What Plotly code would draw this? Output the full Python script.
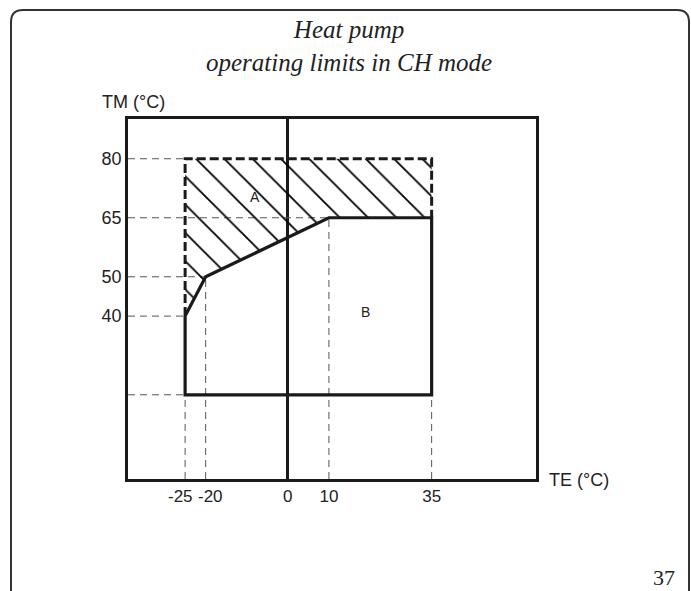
import plotly.graph_objects as go

# ---------------- data ----------------
te_ticks = [-25, -20, 0, 10, 35]
te_ticktext = ["-25", "-20", "0", "10", "35"]
tm_ticks = [40, 50, 65, 80]
tm_ticktext = ["40", "50", "65", "80"]

# Region B: operating limits (solid boundary)
b_te = [-25, -20, 10, 35, 35, -25, -25]
b_tm = [40, 50, 65, 65, 20, 20, 40]

# Region A: extended area (hatched)
a_te = [-25, 35, 35, 10, -20, -25, -25]
a_tm = [80, 80, 65, 65, 50, 40, 80]

# dashed outer border of region A
a_border_te = [-25, -25, 35, 35]
a_border_tm = [40, 80, 80, 65]

# horizontal guide lines (end points)
guide_h_te = [-25, 10, -20, -25, -25]
guide_h_tm = [80, 65, 50, 40, 20]
# vertical guide lines (end points)
guide_v_te = [-25, -20, 10, 35]
guide_v_tm = [20, 50, 65, 20]

X_MIN, X_MAX = -38.9, 60.4
Y_MIN, Y_MAX = -1.4, 90.1

# ---------------- layout helpers ----------------
W, H = 691, 591
PL, PR, PT, PB = 128, 536, 119, 479


def px(x):
    return (x - PL) / (PR - PL)


def py(y):
    return (PB - y) / (PB - PT)


fig = go.Figure()

# guide dashed lines
gx, gy = [], []
for t, m in zip(guide_h_te, guide_h_tm):
    gx += [X_MIN, t, None]
    gy += [m, m, None]
for t, m in zip(guide_v_te, guide_v_tm):
    gx += [t, t, None]
    gy += [Y_MIN, m, None]
fig.add_trace(go.Scatter(x=gx, y=gy, mode="lines",
                         line=dict(color="#555555", width=1, dash="7px,5px"),
                         hoverinfo="skip", showlegend=False))

# hatched region A
fig.add_trace(go.Scatter(x=a_te, y=a_tm, mode="lines", fill="toself",
                         fillcolor="rgba(0,0,0,0)",
                         fillpattern=dict(shape="\\", size=20, solidity=0.09,
                                          fgcolor="#000000", fgopacity=1,
                                          bgcolor="rgba(0,0,0,0)"),
                         line=dict(width=0), hoverinfo="skip", showlegend=False))

# dashed thick border of A
fig.add_trace(go.Scatter(x=a_border_te, y=a_border_tm, mode="lines",
                         line=dict(color="#1a1a1a", width=3, dash="9px,4px"),
                         hoverinfo="skip", showlegend=False))

# solid boundary of B
fig.add_trace(go.Scatter(x=b_te, y=b_tm, mode="lines",
                         line=dict(color="#1a1a1a", width=3.2),
                         hoverinfo="skip", showlegend=False))

# tick labels: the two crowded ones are drawn as annotations nudged apart
axis_ticktext = [("" if v in (-25, -20) else t) for v, t in zip(te_ticks, te_ticktext)]
fig.update_xaxes(range=[X_MIN, X_MAX], tickvals=te_ticks,
                 ticktext=axis_ticktext, tickangle=0,
                 showgrid=False, zeroline=True, zerolinecolor="#1a1a1a",
                 zerolinewidth=2.5, showline=True, mirror=True,
                 linecolor="#1a1a1a", linewidth=2.5, ticks="",
                 tickfont=dict(family="Liberation Sans", size=17, color="#222222"))
fig.update_yaxes(range=[Y_MIN, Y_MAX], tickvals=tm_ticks,
                 ticktext=tm_ticktext,
                 showgrid=False, zeroline=False, showline=True, mirror=True,
                 linecolor="#1a1a1a", linewidth=2.5, ticks="",
                 tickfont=dict(family="Liberation Sans", size=18, color="#222222"))

annotations = [
    dict(x=px(349), y=py(14), xref="paper", yref="paper",
         text="Heat pump<br>operating limits in CH mode", showarrow=False,
         font=dict(family="Liberation Serif", size=25, style="italic", color="#222222"),
         xanchor="center", yanchor="top", align="center"),
    dict(x=px(100), y=py(102), xref="paper", yref="paper", text="TM (°C)",
         showarrow=False, xanchor="left", yanchor="middle",
         font=dict(family="Liberation Sans", size=18, color="#222222")),
    dict(x=px(547), y=py(480), xref="paper", yref="paper", text="TE (°C)",
         showarrow=False, xanchor="left", yanchor="middle",
         font=dict(family="Liberation Sans", size=18, color="#222222")),
    dict(x=-8, y=70.3, xref="x", yref="y", text="A", showarrow=False,
         font=dict(family="Liberation Sans", size=14, color="#222222")),
    dict(x=18.8, y=41.1, xref="x", yref="y", text="B", showarrow=False,
         font=dict(family="Liberation Sans", size=14, color="#222222")),
    dict(x=px(664), y=py(577), xref="paper", yref="paper", text="37",
         showarrow=False, xanchor="center", yanchor="middle",
         font=dict(family="Liberation Serif", size=22, color="#222222")),
]
for v, t in zip(te_ticks, te_ticktext):
    if v in (-25, -20):
        annotations.append(dict(
            x=v, y=py(496), xref="x", yref="paper", text=t, showarrow=False,
            xanchor="center", yanchor="middle", xshift=(-5 if v == -25 else 5),
            borderpad=0,
            font=dict(family="Liberation Sans", size=17, color="#222222")))

# outer page frame with rounded top corners
L, R, T, B, r = 11, 689, 10, 605, 12
frame = (f"M {px(L)},{py(B)} L {px(L)},{py(T + r)} "
         f"Q {px(L)},{py(T)} {px(L + r)},{py(T)} "
         f"L {px(R - r)},{py(T)} Q {px(R)},{py(T)} {px(R)},{py(T + r)} "
         f"L {px(R)},{py(B)}")
shapes = [dict(type="path", xref="paper", yref="paper", path=frame,
               line=dict(color="#333333", width=2), layer="above")]

fig.update_layout(width=W, height=H,
                  margin=dict(l=PL, r=W - PR, t=PT, b=H - PB),
                  paper_bgcolor="white", plot_bgcolor="white",
                  annotations=annotations, shapes=shapes, showlegend=False)

fig.write_html("out.html", config={"displayModeBar": False},
               post_script="document.body.style.margin='0';"
                           "document.body.style.overflow='hidden';")
